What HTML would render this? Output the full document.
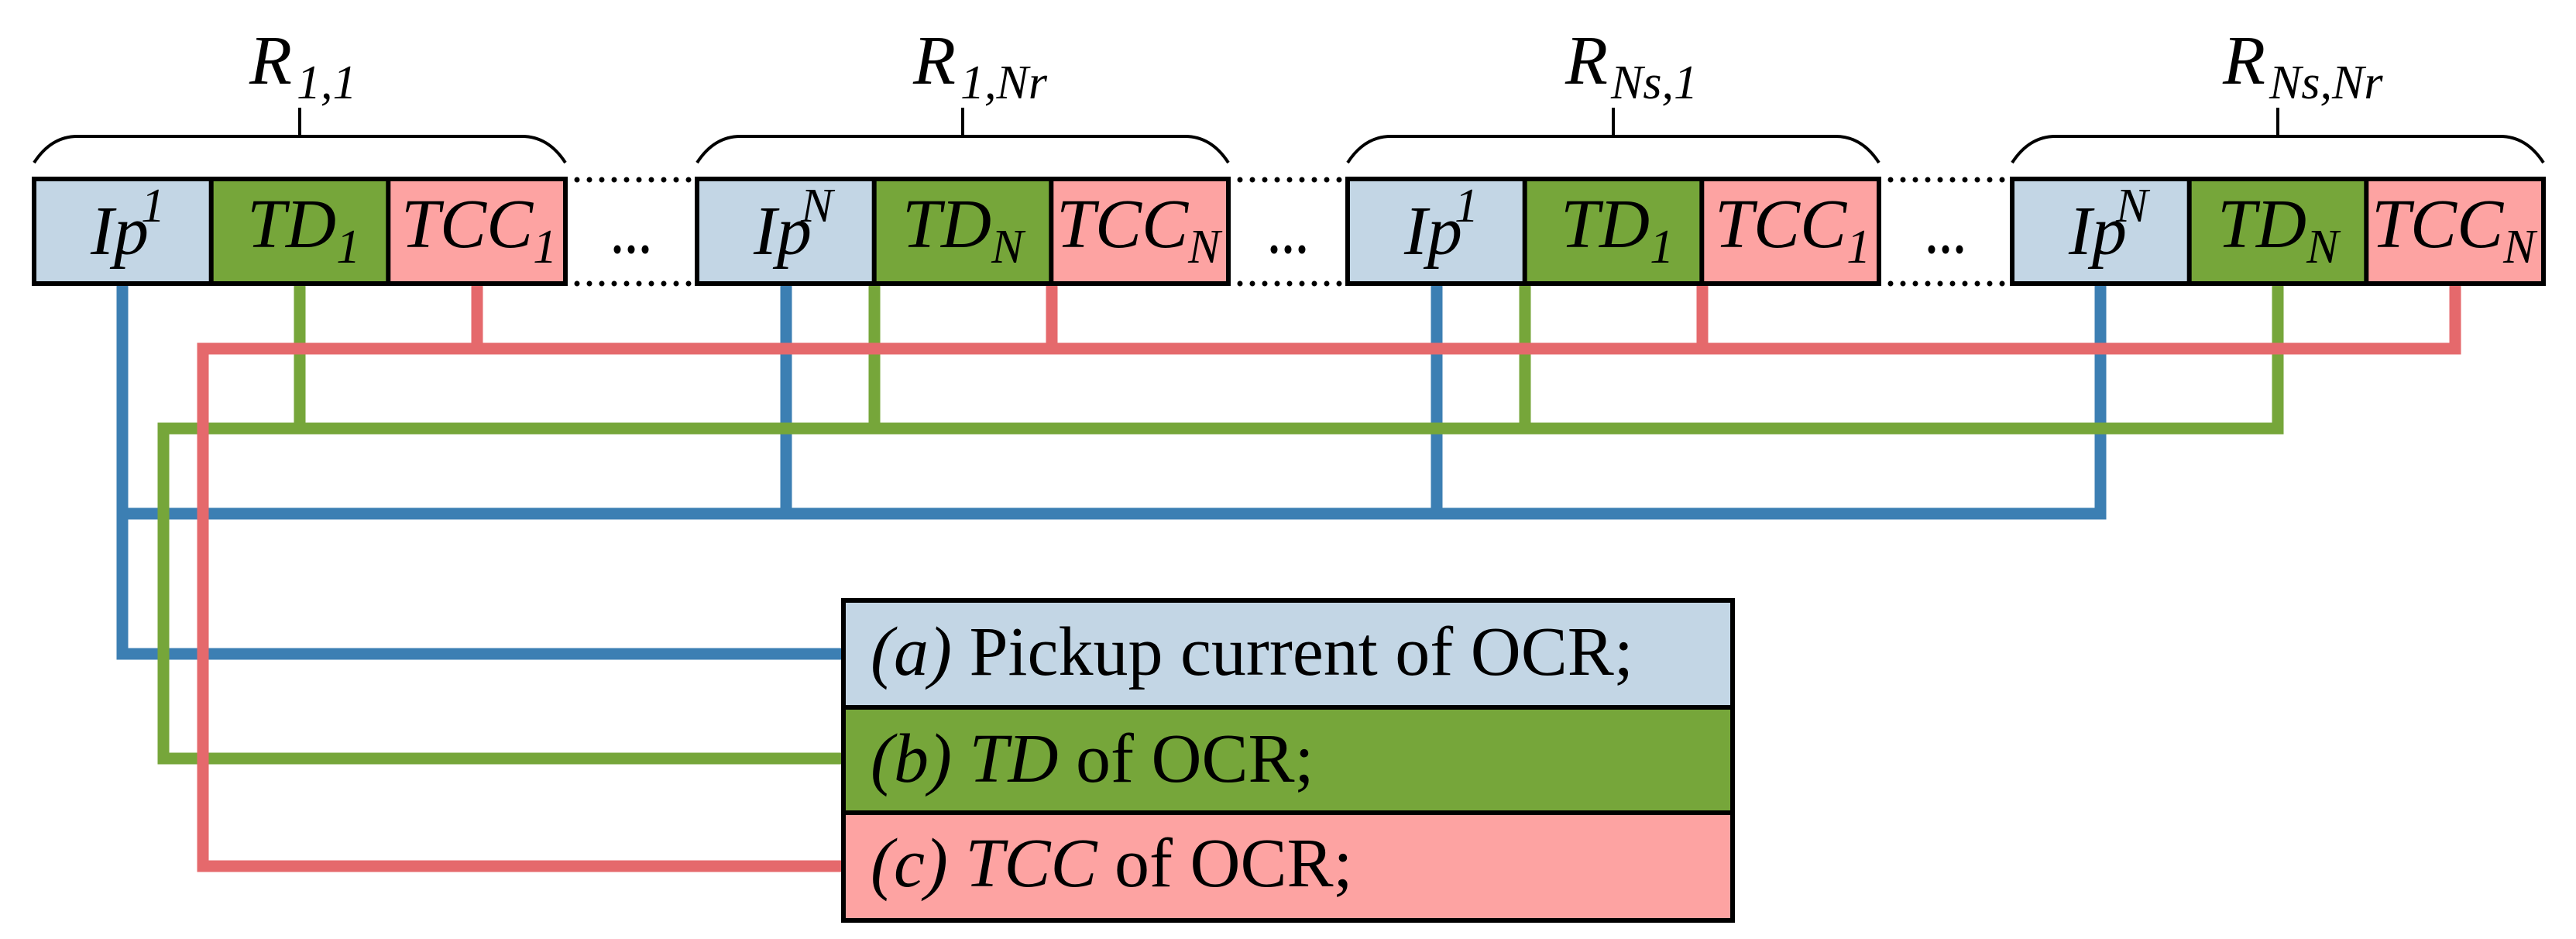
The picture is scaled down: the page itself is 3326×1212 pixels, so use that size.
<!DOCTYPE html>
<html><head><meta charset="utf-8"><style>
html,body{margin:0;padding:0;background:#fff;}
svg{display:block;}
text{font-family:"Liberation Serif",serif;fill:#000;}
</style></head><body>
<svg width="3326" height="1212" viewBox="0 0 3326 1212" xmlns="http://www.w3.org/2000/svg">
<rect width="3326" height="1212" fill="#fff"/>
<!-- connectors: blue bottom, green, red top -->
<g fill="none" stroke-width="15" stroke-linejoin="miter">
  <g stroke="#3c7fb3">
    <path d="M2712 368 V663 H158"/>
    <path d="M158 368 V844 H1089"/>
    <path d="M1015 368 V663"/>
    <path d="M1855 368 V663"/>
  </g>
  <g stroke="#76a63a">
    <path d="M2941 368 V553 H211 V979 H1089"/>
    <path d="M387 368 V553"/>
    <path d="M1129 368 V553"/>
    <path d="M1969 368 V553"/>
  </g>
  <g stroke="#e5696c">
    <path d="M3170 368 V450 H262 V1118 H1089"/>
    <path d="M616 368 V450"/>
    <path d="M1358 368 V450"/>
    <path d="M2198 368 V450"/>
  </g>
</g>

<!-- dotted connectors and ellipses -->
<g stroke="#000" stroke-width="7" stroke-linecap="round" stroke-dasharray="0 16">
  <line x1="745" y1="232" x2="890" y2="232"/><line x1="745" y1="366" x2="890" y2="366"/>
  <line x1="1601" y1="232" x2="1730" y2="232"/><line x1="1601" y1="366" x2="1730" y2="366"/>
  <line x1="2441" y1="232" x2="2588" y2="232"/><line x1="2441" y1="366" x2="2588" y2="366"/>
</g>
<g fill="#000">
  <ellipse cx="797" cy="322" rx="4.5" ry="5.5"/><ellipse cx="815" cy="322" rx="4.5" ry="5.5"/><ellipse cx="833" cy="322" rx="4.5" ry="5.5"/>
  <ellipse cx="1645" cy="322" rx="4.5" ry="5.5"/><ellipse cx="1663" cy="322" rx="4.5" ry="5.5"/><ellipse cx="1681" cy="322" rx="4.5" ry="5.5"/>
  <ellipse cx="2494" cy="322" rx="4.5" ry="5.5"/><ellipse cx="2512" cy="322" rx="4.5" ry="5.5"/><ellipse cx="2530" cy="322" rx="4.5" ry="5.5"/>
</g>

<!-- Block 1 -->
<g>
  <rect x="44" y="231" width="228.7" height="135" fill="#c3d6e5"/>
  <rect x="272.7" y="231" width="228.6" height="135" fill="#76a63a"/>
  <rect x="501.3" y="231" width="228.7" height="135" fill="#fda3a2"/>
  <rect x="44" y="231" width="686" height="135" fill="none" stroke="#000" stroke-width="6"/>
  <line x1="272.7" y1="231" x2="272.7" y2="366" stroke="#000" stroke-width="6"/>
  <line x1="501.3" y1="231" x2="501.3" y2="366" stroke="#000" stroke-width="6"/>
  <path d="M44 210 Q66 176 100 176 H674 Q708 176 730 210" fill="none" stroke="#000" stroke-width="4"/>
  <line x1="387" y1="176" x2="387" y2="139" stroke="#000" stroke-width="4"/>
  <text x="322" y="108" font-size="90" font-style="italic">R</text>
  <text x="383" y="127" font-size="62" font-style="italic">1,1</text>
  <text x="117" y="328" font-size="90" font-style="italic">Ip</text>
  <text x="182" y="286" font-size="62" font-style="italic">1</text>
  <text x="319" y="319" font-size="90" font-style="italic">TD<tspan font-size="62" dy="20">1</tspan></text>
  <text x="518" y="319" font-size="90" font-style="italic">TCC<tspan font-size="62" dy="20">1</tspan></text>
</g>
<!-- Block 2 -->
<g>
  <rect x="900" y="231" width="228.7" height="135" fill="#c3d6e5"/>
  <rect x="1128.7" y="231" width="228.6" height="135" fill="#76a63a"/>
  <rect x="1357.3" y="231" width="228.7" height="135" fill="#fda3a2"/>
  <rect x="900" y="231" width="686" height="135" fill="none" stroke="#000" stroke-width="6"/>
  <line x1="1128.7" y1="231" x2="1128.7" y2="366" stroke="#000" stroke-width="6"/>
  <line x1="1357.3" y1="231" x2="1357.3" y2="366" stroke="#000" stroke-width="6"/>
  <path d="M900 210 Q922 176 956 176 H1530 Q1564 176 1586 210" fill="none" stroke="#000" stroke-width="4"/>
  <line x1="1243" y1="176" x2="1243" y2="139" stroke="#000" stroke-width="4"/>
  <text x="1179" y="108" font-size="90" font-style="italic">R</text>
  <text x="1240" y="127" font-size="62" font-style="italic">1,Nr</text>
  <text x="973" y="328" font-size="90" font-style="italic">Ip</text>
  <text x="1034" y="286" font-size="62" font-style="italic">N</text>
  <text x="1165" y="319" font-size="90" font-style="italic">TD<tspan font-size="62" dy="20">N</tspan></text>
  <text x="1364" y="319" font-size="90" font-style="italic">TCC<tspan font-size="62" dy="20">N</tspan></text>
</g>
<!-- Block 3 -->
<g>
  <rect x="1740" y="231" width="228.7" height="135" fill="#c3d6e5"/>
  <rect x="1968.7" y="231" width="228.6" height="135" fill="#76a63a"/>
  <rect x="2197.3" y="231" width="228.7" height="135" fill="#fda3a2"/>
  <rect x="1740" y="231" width="686" height="135" fill="none" stroke="#000" stroke-width="6"/>
  <line x1="1968.7" y1="231" x2="1968.7" y2="366" stroke="#000" stroke-width="6"/>
  <line x1="2197.3" y1="231" x2="2197.3" y2="366" stroke="#000" stroke-width="6"/>
  <path d="M1740 210 Q1762 176 1796 176 H2370 Q2404 176 2426 210" fill="none" stroke="#000" stroke-width="4"/>
  <line x1="2083" y1="176" x2="2083" y2="139" stroke="#000" stroke-width="4"/>
  <text x="2021" y="108" font-size="90" font-style="italic">R</text>
  <text x="2080" y="127" font-size="62" font-style="italic">Ns,1</text>
  <text x="1813" y="328" font-size="90" font-style="italic">Ip</text>
  <text x="1878" y="286" font-size="62" font-style="italic">1</text>
  <text x="2015" y="319" font-size="90" font-style="italic">TD<tspan font-size="62" dy="20">1</tspan></text>
  <text x="2214" y="319" font-size="90" font-style="italic">TCC<tspan font-size="62" dy="20">1</tspan></text>
</g>
<!-- Block 4 -->
<g>
  <rect x="2598" y="231" width="228.7" height="135" fill="#c3d6e5"/>
  <rect x="2826.7" y="231" width="228.6" height="135" fill="#76a63a"/>
  <rect x="3055.3" y="231" width="228.7" height="135" fill="#fda3a2"/>
  <rect x="2598" y="231" width="686" height="135" fill="none" stroke="#000" stroke-width="6"/>
  <line x1="2826.7" y1="231" x2="2826.7" y2="366" stroke="#000" stroke-width="6"/>
  <line x1="3055.3" y1="231" x2="3055.3" y2="366" stroke="#000" stroke-width="6"/>
  <path d="M2598 210 Q2620 176 2654 176 H3228 Q3262 176 3284 210" fill="none" stroke="#000" stroke-width="4"/>
  <line x1="2941" y1="176" x2="2941" y2="139" stroke="#000" stroke-width="4"/>
  <text x="2870" y="108" font-size="90" font-style="italic">R</text>
  <text x="2930" y="127" font-size="62" font-style="italic">Ns,Nr</text>
  <text x="2671" y="328" font-size="90" font-style="italic">Ip</text>
  <text x="2732" y="286" font-size="62" font-style="italic">N</text>
  <text x="2863" y="319" font-size="90" font-style="italic">TD<tspan font-size="62" dy="20">N</tspan></text>
  <text x="3062" y="319" font-size="90" font-style="italic">TCC<tspan font-size="62" dy="20">N</tspan></text>
</g>

<!-- Legend -->
<g>
  <rect x="1089" y="775" width="1148" height="138" fill="#c3d6e5"/>
  <rect x="1089" y="913" width="1148" height="136" fill="#76a63a"/>
  <rect x="1089" y="1049" width="1148" height="139" fill="#fda3a2"/>
  <rect x="1089" y="775" width="1148" height="413" fill="none" stroke="#000" stroke-width="6"/>
  <line x1="1089" y1="913" x2="2237" y2="913" stroke="#000" stroke-width="6"/>
  <line x1="1089" y1="1049" x2="2237" y2="1049" stroke="#000" stroke-width="6"/>
  <text x="1124" y="871" font-size="90"><tspan font-style="italic">(a)</tspan> Pickup current of OCR;</text>
  <text x="1124" y="1009" font-size="90"><tspan font-style="italic">(b) TD</tspan> of OCR;</text>
  <text x="1124" y="1144" font-size="90"><tspan font-style="italic">(c) TCC</tspan> of OCR;</text>
</g>
</svg>
</body></html>
